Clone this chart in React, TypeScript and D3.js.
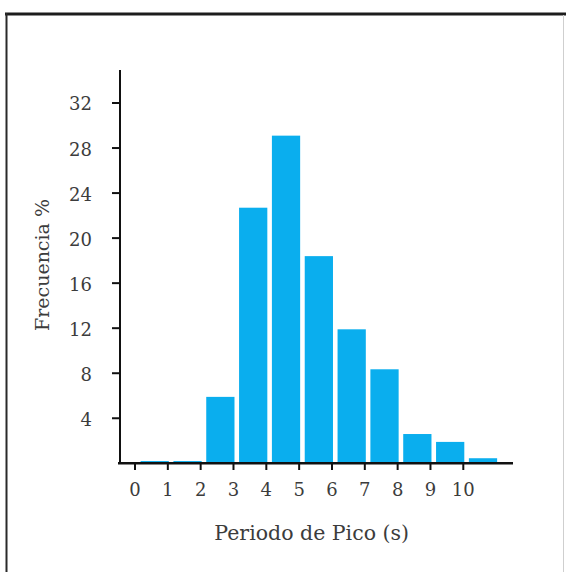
import React from "react";
import * as d3 from "d3";

const binStarts = [0, 1, 2, 3, 4, 5, 6, 7, 8, 9, 10];
const frequencies = [0.2, 0.2, 5.9, 22.7, 29.1, 18.4, 11.9, 8.35, 2.6, 1.9, 0.45];
const xTicks = [0, 1, 2, 3, 4, 5, 6, 7, 8, 9, 10];
const yTicks = [4, 8, 12, 16, 20, 24, 28, 32];
const xLabel = "Periodo de Pico (s)";
const yLabel = "Frecuencia %";

const W = 566;
const H = 572;

export default function App() {
  const x = d3.scaleLinear().domain([0, 10]).range([135, 463.3]);
  const y = d3.scaleLinear().domain([0, 32]).range([463.3, 103]);
  const font = "'DejaVu Serif', 'Liberation Serif', serif";
  const textColor = "#3c3c3c";
  const barGapLeft = 0.17;
  return (
    <svg
      width={W}
      height={H}
      style={{ position: "absolute", left: 0, top: 0, background: "#fff" }}
    >
      {/* frame */}
      <line x1={5} x2={566} y1={14} y2={14} stroke="#1c1c1c" strokeWidth={3} />
      <line x1={6.5} x2={6.5} y1={13} y2={572} stroke="#2a2a2a" strokeWidth={2} />
      <line x1={563.5} x2={563.5} y1={15} y2={572} stroke="#cfcfcf" strokeWidth={1} />

      {/* bars */}
      {binStarts.map((b, i) => (
        <rect
          key={i}
          x={x(b + barGapLeft)}
          y={y(frequencies[i])}
          width={x(b + 1) - x(b + barGapLeft) + 1}
          height={y(0) - y(frequencies[i])}
          fill="#0aaeee"
        />
      ))}

      {/* y axis */}
      <line x1={120} x2={120} y1={70} y2={464} stroke="#111" strokeWidth={2} />
      {yTicks.map((t) => (
        <g key={t}>
          <line x1={112} x2={120} y1={y(t)} y2={y(t)} stroke="#111" strokeWidth={2} />
          <text
            x={92}
            y={y(t) + 1}
            dy="0.36em"
            textAnchor="end"
            fontFamily={font}
            fontSize={18}
            fill={textColor}
          >
            {t}
          </text>
        </g>
      ))}

      {/* x axis */}
      <line x1={118} x2={513} y1={463.3} y2={463.3} stroke="#111" strokeWidth={2.5} />
      {xTicks.map((t) => (
        <g key={t}>
          <line x1={x(t)} x2={x(t)} y1={463} y2={470} stroke="#111" strokeWidth={2} />
          <text
            x={x(t)}
            y={490}
            dy="0.36em"
            textAnchor="middle"
            fontFamily={font}
            fontSize={18}
            fill={textColor}
          >
            {t}
          </text>
        </g>
      ))}

      <text
        x={311.7}
        y={540}
        textAnchor="middle"
        fontFamily={font}
        fontSize={20.5}
        fill={textColor}
      >
        {xLabel}
      </text>
      <text
        transform={`translate(49,265) rotate(-90)`}
        textAnchor="middle"
        fontFamily={font}
        fontSize={19}
        fill={textColor}
      >
        {yLabel}
      </text>
    </svg>
  );
}
